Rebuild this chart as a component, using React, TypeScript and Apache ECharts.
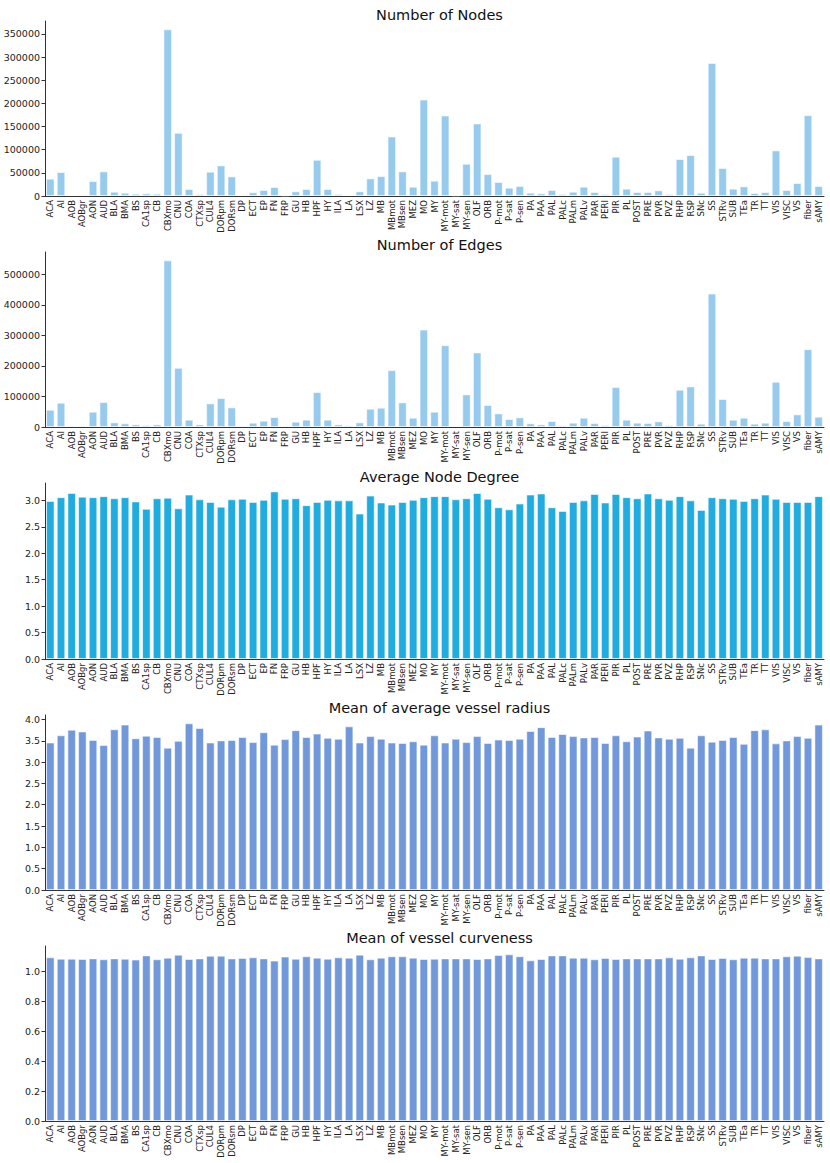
import React, { useEffect, useRef } from "react";
import * as echarts from "echarts";

const categories = ["ACA","AI","AOB","AOBgr","AON","AUD","BLA","BMA","BS","CA1sp","CB","CBXmo","CNU","COA","CTXsp","CUL4","DORpm","DORsm","DP","ECT","EP","FN","FRP","GU","HB","HPF","HY","ILA","LA","LSX","LZ","MB","MBmot","MBsen","MEZ","MO","MY","MY-mot","MY-sat","MY-sen","OLF","ORB","P-mot","P-sat","P-sen","PA","PAA","PAL","PALc","PALm","PALv","PAR","PERI","PIR","PL","POST","PRE","PVR","PVZ","RHP","RSP","SNc","SS","STRv","SUB","TEa","TR","TT","VIS","VISC","VS","fiber","sAMY"];

const numNodes = [37400,51700,2200,2900,32300,53200,9300,7200,5000,5700,5000,360000,136500,15100,4300,52500,66100,42400,2200,7900,12900,19400,1400,10100,15100,78300,15100,4300,2200,10100,38100,43100,128600,53200,20100,208400,33100,173900,1400,69700,156700,47400,30200,18000,21600,7200,5700,12900,4300,9300,20100,8600,4300,84800,15800,8600,8600,12200,4300,79800,88400,7200,287500,60400,15800,20800,6500,8600,98500,12900,28000,174600,21600];

const numEdges = [56600,79500,4400,4400,50100,81700,15200,12000,8700,6500,8700,545600,193800,24000,8700,77300,94700,64300,4400,14200,20700,32700,3300,17400,24000,114300,24000,8700,5400,15200,59900,63200,186200,80600,30500,319000,50100,267900,3300,106700,243900,71900,44600,26100,31600,12000,8700,19600,5400,14200,30500,13100,6500,130700,24000,14200,13100,18500,6500,122000,132900,10900,436700,91500,24000,30500,10900,14200,148100,19600,41400,254800,33800];

const avgDegree = [2.99,3.06,3.14,3.07,3.06,3.08,3.04,3.06,2.98,2.84,3.04,3.05,2.85,3.11,3.02,2.97,2.88,3.02,3.03,2.97,3.01,3.17,3.03,3.04,2.91,2.97,3.01,3.0,3.0,2.75,3.09,2.96,2.92,2.97,3.01,3.06,3.08,3.08,3.02,3.04,3.14,3.03,2.87,2.83,2.94,3.11,3.13,2.87,2.8,2.97,3.0,3.12,2.96,3.12,3.06,3.04,3.13,3.04,3.01,3.08,3.0,2.82,3.06,3.04,3.03,2.99,3.04,3.11,3.03,2.97,2.97,2.97,3.08];

const vesselRadius = [3.46,3.63,3.76,3.72,3.52,3.4,3.77,3.88,3.56,3.62,3.59,3.34,3.5,3.91,3.8,3.46,3.51,3.52,3.59,3.47,3.7,3.41,3.54,3.75,3.59,3.67,3.57,3.55,3.84,3.46,3.61,3.55,3.46,3.45,3.49,3.41,3.63,3.46,3.55,3.47,3.61,3.45,3.53,3.52,3.55,3.73,3.82,3.59,3.66,3.61,3.58,3.59,3.45,3.63,3.49,3.6,3.74,3.58,3.55,3.57,3.34,3.63,3.48,3.52,3.59,3.43,3.75,3.77,3.44,3.51,3.61,3.57,3.88];

const curveness = [1.093,1.084,1.084,1.082,1.086,1.08,1.086,1.084,1.078,1.106,1.08,1.091,1.111,1.082,1.086,1.104,1.104,1.086,1.089,1.093,1.086,1.071,1.098,1.084,1.1,1.091,1.084,1.093,1.091,1.111,1.08,1.091,1.1,1.1,1.091,1.082,1.084,1.086,1.086,1.086,1.082,1.086,1.109,1.113,1.1,1.073,1.082,1.106,1.106,1.091,1.091,1.08,1.089,1.082,1.086,1.086,1.086,1.086,1.093,1.084,1.093,1.106,1.082,1.089,1.08,1.091,1.091,1.086,1.086,1.1,1.104,1.095,1.086];

const titles = ["Number of Nodes","Number of Edges","Average Node Degree","Mean of average vessel radius","Mean of vessel curveness"];
const ticks1 = [0,50000,100000,150000,200000,250000,300000,350000];
const ticks2 = [0,100000,200000,300000,400000,500000];
const ticks3 = [0,0.5,1.0,1.5,2.0,2.5,3.0];
const ticks4 = [0,0.5,1.0,1.5,2.0,2.5,3.0,3.5,4.0];
const ticks5 = [0,0.2,0.4,0.6,0.8,1.0];

export default function App() {
  const ref = useRef<HTMLDivElement>(null);
  useEffect(() => {
    if (!ref.current) return;
    const chart = echarts.init(ref.current, null, { renderer: "svg" });
    const panels = [
      { data: numNodes, ticks: ticks1, color: "#97cbee", top: 21, bottom: 196, titleY: 2, fmt: (v: number) => String(v) },
      { data: numEdges, ticks: ticks2, color: "#97cbee", top: 252, bottom: 427, titleY: 232, fmt: (v: number) => String(v) },
      { data: avgDegree, ticks: ticks3, color: "#20acde", top: 483, bottom: 659, titleY: 464, fmt: (v: number) => v.toFixed(1) },
      { data: vesselRadius, ticks: ticks4, color: "#7098db", top: 715, bottom: 890, titleY: 695, fmt: (v: number) => v.toFixed(1) },
      { data: curveness, ticks: ticks5, color: "#7098db", top: 946, bottom: 1121, titleY: 925, fmt: (v: number) => v.toFixed(1) },
    ];
    const left = 45;
    const right = 6;
    const axisColor = "#333";
    const textColor = "#222";
    const font = "DejaVu Sans";
    const option: any = {
      animation: false,
      backgroundColor: "#fff",
      title: panels.map((p, i) => ({
        text: titles[i],
        left: (left + 830 - right) / 2,
        top: p.titleY,
        textAlign: "center",
        textStyle: { fontFamily: font, fontSize: 14.5, fontWeight: "normal", color: "#111" },
      })),
      grid: panels.map((p) => ({ left, right, top: p.top, height: p.bottom - p.top, containLabel: false })),
      xAxis: panels.map((p, i) => ({
        type: "category",
        gridIndex: i,
        data: categories,
        axisLine: { lineStyle: { color: axisColor, width: 1 } },
        axisTick: { alignWithLabel: true, length: 3.5, lineStyle: { color: axisColor } },
        axisLabel: { rotate: 90, interval: 0, fontFamily: font, fontSize: 8.5, color: textColor, margin: 4 },
        splitLine: { show: false },
      })),
      yAxis: panels.map((p, i) => {
        const mx = Math.max(...p.data) * 1.05;
        return {
          type: "value",
          gridIndex: i,
          min: 0,
          max: mx,
          interval: p.ticks[1],
          axisLine: { show: true, lineStyle: { color: axisColor, width: 1 } },
          axisTick: { show: true, length: 3.5, lineStyle: { color: axisColor }, customValues: p.ticks },
          axisLabel: { fontFamily: font, fontSize: 9.5, color: textColor, margin: 5, formatter: p.fmt, customValues: p.ticks },
          splitLine: { show: false },
        };
      }),
      series: panels.map((p, i) => ({
        type: "bar",
        xAxisIndex: i,
        yAxisIndex: i,
        data: p.data,
        barCategoryGap: "20%",
        itemStyle: { color: p.color, borderColor: "rgba(255,255,255,0.55)", borderWidth: 1 },
      })),
    };
    chart.setOption(option);
    return () => chart.dispose();
  }, []);
  return <div ref={ref} style={{ position: "absolute", left: 0, top: 0, width: 830, height: 1163 }} />;
}
